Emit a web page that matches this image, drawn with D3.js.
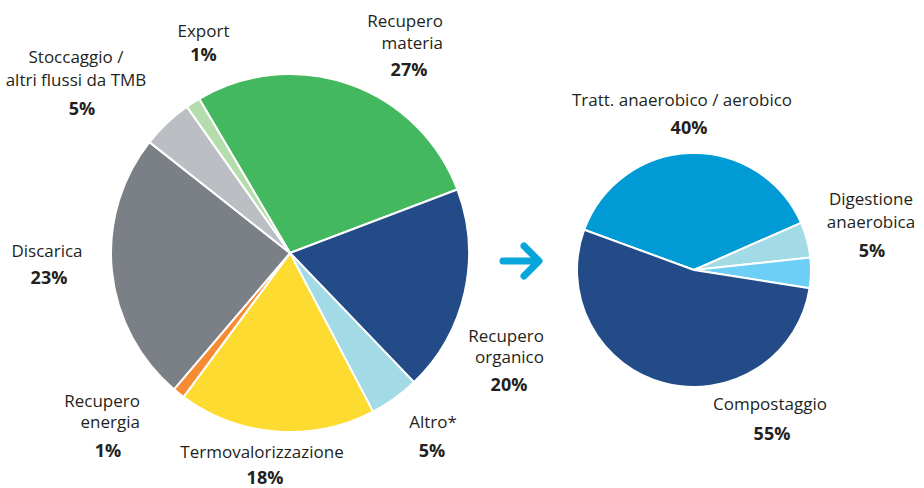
<!DOCTYPE html>
<html>
<head>
<meta charset="utf-8">
<script src="https://cdn.jsdelivr.net/npm/d3@7"></script>
<style>
  html, body { margin: 0; padding: 0; background: #ffffff; }
  svg { display: block; }
  text { font-family: "Open Sans", "Noto Sans", sans-serif; fill: #231f20; }
  .name { font-size: 17px; }
  .pct { font-size: 18px; font-weight: 700; }
</style>
</head>
<body>
<svg id="chart" width="924" height="488"></svg>
<script>
// ---- Data ----
const leftCategories = ["Recupero materia", "Recupero organico", "Altro*", "Termovalorizzazione",
                        "Recupero energia", "Discarica", "Stoccaggio / altri flussi da TMB", "Export"];
const leftValues = [27.7, 18.6, 4.5, 17.8, 1.1, 24.4, 4.6, 1.3];
const leftPctLabels = ["27%", "20%", "5%", "18%", "1%", "23%", "5%", "1%"];

const rightCategories = ["Tratt. anaerobico / aerobico", "Digestione anaerobica",
                         "Digestione anaerobica (altro)", "Compostaggio"];
const rightValues = [37.8, 4.9, 4.2, 53.1];
const rightLabelCategories = ["Tratt. anaerobico / aerobico", "Digestione anaerobica", "Compostaggio"];
const rightPctLabels = ["40%", "5%", "55%"];

// ---- Styling / layout ----
const leftColors = ["#44b85f", "#224b87", "#a2dae6", "#fedb30", "#f68b33", "#7b7f86", "#bbbec2", "#b5dcad"];
const rightColors = ["#009bd4", "#a2dae6", "#6dcff6", "#224b87"];

const svg = d3.select("#chart");
const deg = Math.PI / 180;

function drawPie(cx, cy, r, values, colors, startDeg) {
  const pie = d3.pie().sort(null).value(d => d)
    .startAngle(startDeg * deg).endAngle(startDeg * deg + 2 * Math.PI);
  const arc = d3.arc().innerRadius(0).outerRadius(r);
  const g = svg.append("g").attr("transform", `translate(${cx},${cy})`);
  g.selectAll("path").data(pie(values)).join("path")
    .attr("d", arc)
    .attr("fill", (d, i) => colors[i])
    .attr("stroke", "#ffffff")
    .attr("stroke-width", 2)
    .attr("stroke-linejoin", "round");
}

drawPie(290, 253, 179, leftValues, leftColors, -30.5);
drawPie(694, 270, 117, rightValues, rightColors, -69.85);

// label layout: anchor, x for name lines, baselines, pct x, pct baseline
const leftLayout = {
  "Recupero materia": {anchor: "end", x: 443, lines: ["Recupero", "materia"], ys: [26.5, 48.5], px: 409, py: 76},
  "Recupero organico": {anchor: "end", x: 544, lines: ["Recupero", "organico"], ys: [341.5, 362.5], px: 509, py: 391},
  "Altro*": {anchor: "middle", x: 433, lines: ["Altro*"], ys: [428], px: 432, py: 457},
  "Termovalorizzazione": {anchor: "middle", x: 262, lines: ["Termovalorizzazione"], ys: [458], px: 265, py: 484},
  "Recupero energia": {anchor: "end", x: 140, lines: ["Recupero", "energia"], ys: [406.5, 428], px: 108, py: 457},
  "Discarica": {anchor: "middle", x: 47, lines: ["Discarica"], ys: [256.5], px: 49, py: 284},
  "Stoccaggio / altri flussi da TMB": {anchor: "middle", x: 76, lines: ["Stoccaggio /", "altri flussi da TMB"], ys: [63, 86], px: 82, py: 115},
  "Export": {anchor: "middle", x: 203.5, lines: ["Export"], ys: [36.5], px: 203.5, py: 61}
};
const rightLayout = {
  "Tratt. anaerobico / aerobico": {anchor: "middle", x: 682, lines: ["Tratt. anaerobico / aerobico"], ys: [106], px: 689, py: 134},
  "Digestione anaerobica": {anchor: "middle", x: 871, lines: ["Digestione", "anaerobica"], ys: [205, 228], px: 872, py: 257},
  "Compostaggio": {anchor: "middle", x: 770, lines: ["Compostaggio"], ys: [410], px: 772, py: 440}
};

function drawLabels(cats, pcts, layout) {
  cats.forEach((c, i) => {
    const L = layout[c];
    const t = svg.append("text").attr("class", "name").attr("text-anchor", L.anchor);
    L.lines.forEach((ln, j) => {
      t.append("tspan").attr("x", L.x).attr("y", L.ys[j]).text(ln);
    });
    svg.append("text").attr("class", "pct").attr("text-anchor", "middle")
      .attr("x", L.px).attr("y", L.py).text(pcts[i]);
  });
}
drawLabels(leftCategories, leftPctLabels, leftLayout);
drawLabels(rightLabelCategories, rightPctLabels, rightLayout);

// arrow
const arrow = svg.append("g").attr("fill", "none").attr("stroke", "#06a5da")
  .attr("stroke-width", 7).attr("stroke-linecap", "round").attr("stroke-linejoin", "round");
arrow.append("line").attr("x1", 503).attr("y1", 261).attr("x2", 538).attr("y2", 261);
arrow.append("polyline").attr("points", "524,246 539,261 524,276");
</script>
</body>
</html>
